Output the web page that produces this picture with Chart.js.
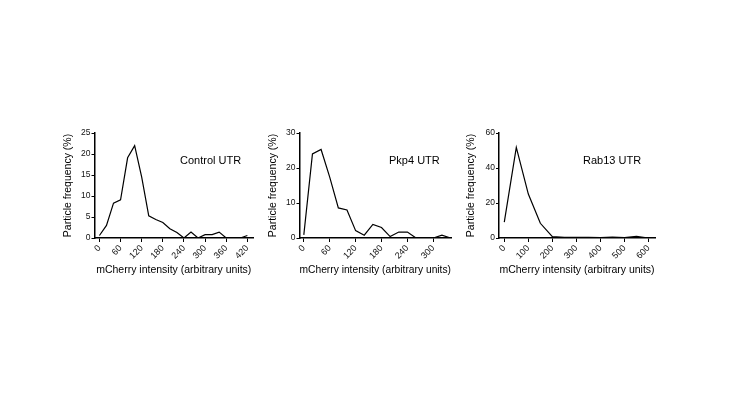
<!DOCTYPE html>
<html>
<head>
<meta charset="utf-8">
<script src="https://cdn.jsdelivr.net/npm/chart.js@4.4.1/dist/chart.umd.min.js"></script>
<style>
  html, body { margin: 0; padding: 0; background: #fff; }
  body { width: 750px; height: 400px; position: relative; overflow: hidden; }
  canvas { position: absolute; }
</style>
</head>
<body>
<canvas id="control"></canvas>
<canvas id="pkp4"></canvas>
<canvas id="rab13"></canvas>
<script>
// bin start (arbitrary units) and particle frequency (%) per construct
const controlBins = [0, 20, 40, 60, 80, 100, 120, 140, 160, 180, 200, 220, 240, 260, 280, 300, 320, 340, 360, 380, 400, 420];
const controlFreq = [0.6, 3.0, 8.3, 9.1, 19.1, 22.0, 14.5, 5.3, 4.4, 3.7, 2.2, 1.3, 0, 1.4, 0, 0.8, 0.8, 1.4, 0, 0, 0, 0.6];
const controlXTicks = [0, 60, 120, 180, 240, 300, 360, 420];
const controlYTicks = [0, 5, 10, 15, 20, 25];

const pkp4Bins = [0, 20, 40, 60, 80, 100, 120, 140, 160, 180, 200, 220, 240, 260, 280, 300, 320, 340];
const pkp4Freq = [0.9, 24.0, 25.3, 17.4, 8.6, 8.0, 2.1, 0.8, 3.9, 3.0, 0.4, 1.7, 1.7, 0, 0, 0, 0.8, 0];
const pkp4XTicks = [0, 60, 120, 180, 240, 300];
const pkp4YTicks = [0, 10, 20, 30];

const rab13Bins = [0, 50, 100, 150, 200, 250, 300, 350, 400, 450, 500, 550, 600];
const rab13Freq = [9.1, 51.8, 25.1, 8.4, 0.8, 0.4, 0.4, 0.4, 0.2, 0.5, 0.2, 1.0, 0];
const rab13XTicks = [0, 100, 200, 300, 400, 500, 600];
const rab13YTicks = [0, 20, 40, 60];

const xTitle = "mCherry intensity (arbitrary units)";
const yTitle = "Particle frequency (%)";

const FONT = '"Liberation Sans", Arial, Helvetica, sans-serif';
const TITLE_SIZE = 10.5;
const CANVAS_TOP = 115;
const CANVAS_H = 175;

// drawn label inside each panel
const panelLabel = {
  id: "panelLabel",
  afterDraw(chart, args, opts) {
    const ctx = chart.ctx;
    ctx.save();
    ctx.font = "11px " + FONT;
    ctx.fillStyle = "#000";
    ctx.textBaseline = "middle";
    ctx.fillText(opts.text, opts.x, opts.y);
    ctx.restore();
  }
};

function makePanel(id, label, bins, freq, xTicks, yTicks, lay) {
  const cv = document.getElementById(id);
  const left = lay.yTitleX - 10;
  const width = lay.plotRight + 8 - left;
  cv.style.left = left + "px";
  cv.style.top = CANVAS_TOP + "px";
  cv.width = width;
  cv.height = CANVAS_H;

  const half = TITLE_SIZE * 1.2 / 2;
  const yScaleLeft = lay.yTitleX - half;
  const xScaleBottom = lay.xTitleY + half;

  new Chart(cv.getContext("2d"), {
    type: "line",
    data: {
      datasets: [{
        data: bins.map((b, i) => ({ x: b, y: freq[i] })),
        borderColor: "#000",
        borderWidth: 1.2,
        pointRadius: 0,
        tension: 0,
        fill: false
      }]
    },
    options: {
      responsive: false,
      animation: false,
      layout: {
        padding: {
          left: yScaleLeft - left,
          top: lay.plotTop - CANVAS_TOP,
          right: left + width - lay.plotRight,
          bottom: CANVAS_TOP + CANVAS_H - xScaleBottom
        }
      },
      plugins: {
        legend: { display: false },
        tooltip: { enabled: false },
        panelLabel: { text: label, x: lay.labelX - left, y: lay.labelY - CANVAS_TOP }
      },
      scales: {
        x: {
          type: "linear",
          min: lay.xMin,
          max: lay.xMax,
          afterBuildTicks: s => { s.ticks = xTicks.map(v => ({ value: v })); },
          afterFit: s => { s.height = xScaleBottom - lay.plotBottom; },
          ticks: {
            autoSkip: false,
            minRotation: 45,
            maxRotation: 45,
            padding: 1,
            color: "#111",
            font: { family: FONT, size: 9 },
            callback: v => String(v)
          },
          grid: { display: true, drawOnChartArea: false, drawTicks: true, tickLength: 4, color: "#000", lineWidth: 1 },
          border: { display: true, color: "#000", width: 1.5 },
          title: { display: true, text: xTitle, color: "#000", padding: 0, font: { family: FONT, size: TITLE_SIZE } }
        },
        y: {
          type: "linear",
          min: yTicks[0],
          max: yTicks[yTicks.length - 1],
          afterBuildTicks: s => { s.ticks = yTicks.map(v => ({ value: v })); },
          afterFit: s => { s.width = lay.axisX - yScaleLeft; },
          ticks: {
            padding: 1,
            color: "#111",
            font: { family: FONT, size: 8.5 },
            callback: v => String(v)
          },
          grid: { display: true, drawOnChartArea: false, drawTicks: true, tickLength: 3, color: "#000", lineWidth: 1 },
          border: { display: true, color: "#000", width: 1.5 },
          title: { display: true, text: yTitle, color: "#000", padding: 0, font: { family: FONT, size: TITLE_SIZE } }
        }
      }
    },
    plugins: [panelLabel]
  });
}

makePanel("control", "Control UTR", controlBins, controlFreq, controlXTicks, controlYTicks,
  { axisX: 94.5, plotTop: 133, plotBottom: 238, plotRight: 253, yTitleX: 68, xTitleY: 270,
    xMin: -14, xMax: 436, labelX: 180, labelY: 160.5 });
makePanel("pkp4", "Pkp4 UTR", pkp4Bins, pkp4Freq, pkp4XTicks, pkp4YTicks,
  { axisX: 299.5, plotTop: 133, plotBottom: 238, plotRight: 451, yTitleX: 273, xTitleY: 270,
    xMin: -10, xMax: 341, labelX: 389, labelY: 160.5 });
makePanel("rab13", "Rab13 UTR", rab13Bins, rab13Freq, rab13XTicks, rab13YTicks,
  { axisX: 499, plotTop: 133, plotBottom: 238, plotRight: 655, yTitleX: 471, xTitleY: 270,
    xMin: -22, xMax: 627, labelX: 583, labelY: 160.5 });
</script>
</body>
</html>
